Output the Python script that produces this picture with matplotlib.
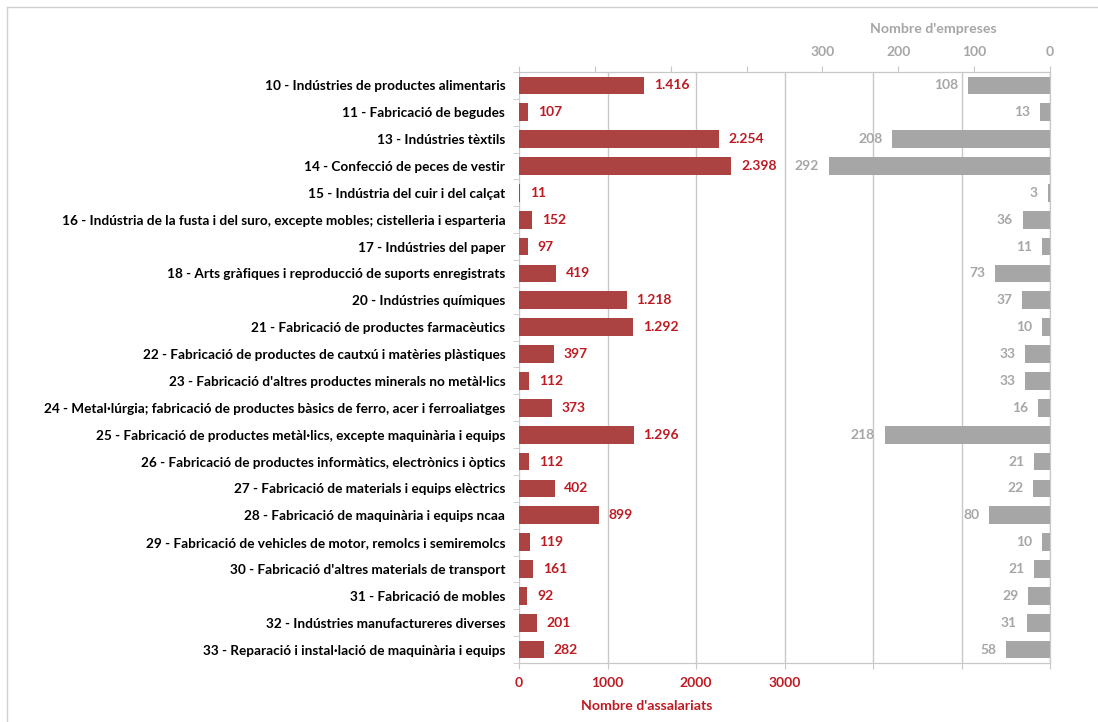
import numpy as np
import matplotlib.pyplot as plt
from matplotlib.lines import Line2D

plt.rcParams['font.family'] = ['Lato', 'DejaVu Sans']

categories = [
    "10 - Indústries de productes alimentaris",
    "11 - Fabricació de begudes",
    "13 - Indústries tèxtils",
    "14 - Confecció de peces de vestir",
    "15 - Indústria del cuir i del calçat",
    "16 - Indústria de la fusta i del suro, excepte mobles; cistelleria i esparteria",
    "17 - Indústries del paper",
    "18 - Arts gràfiques i reproducció de suports enregistrats",
    "20 - Indústries químiques",
    "21 - Fabricació de productes farmacèutics",
    "22 - Fabricació de productes de cautxú i matèries plàstiques",
    "23 - Fabricació d'altres productes minerals no metàl·lics",
    "24 - Metal·lúrgia; fabricació de productes bàsics de ferro, acer i ferroaliatges",
    "25 - Fabricació de productes metàl·lics, excepte maquinària i equips",
    "26 - Fabricació de productes informàtics, electrònics i òptics",
    "27 - Fabricació de materials i equips elèctrics",
    "28 - Fabricació de maquinària i equips ncaa",
    "29 - Fabricació de vehicles de motor, remolcs i semiremolcs",
    "30 - Fabricació d'altres materials de transport",
    "31 - Fabricació de mobles",
    "32 - Indústries manufactureres diverses",
    "33 - Reparació i instal·lació de maquinària i equips",
]
assalariats = [1416, 107, 2254, 2398, 11, 152, 97, 419, 1218, 1292, 397,
               112, 373, 1296, 112, 402, 899, 119, 161, 92, 201, 282]
empreses = [108, 13, 208, 292, 3, 36, 11, 73, 37, 10, 33,
            33, 16, 218, 21, 22, 80, 10, 21, 29, 31, 58]

RED = '#AA4341'
RED_TXT = '#BE1A22'
GRAY = '#A6A6A6'
GRID = '#C8C8C8'

def fmt(v):
    return f'{v:,}'.replace(',', '.')

fig = plt.figure(figsize=(10.98, 7.22), dpi=100)
ax = fig.add_axes([0.4727, 0.0817, 0.4836, 0.8186])
ax2 = ax.twiny()

y = np.arange(len(categories))

# assalariats (eix inferior)
ax.barh(y, assalariats, height=0.66, color=RED, zorder=2)
ax.set_xlim(0, 6000)
ax.set_ylim(len(categories) - 0.5, -0.5)
ax.set_xticks(range(0, 6001, 1000))
ax.set_xticklabels(['0', '1000', '2000', '3000', '', '', ''])
ax.tick_params(axis='x', colors=GRID, labelcolor=RED_TXT, length=4, pad=6,
               labelsize=10)
for t in ax.get_xticklabels():
    t.set_fontweight('bold')
ax.grid(axis='x', color=GRID, linewidth=1)
ax.set_axisbelow(True)
for i, v in enumerate(assalariats):
    ax.annotate(fmt(v), (v, i), xytext=(7, 0), textcoords='offset points',
                va='center', ha='left', color=RED_TXT, fontsize=10,
                fontweight='bold')

ax.set_yticks(y)
ax.set_yticklabels(categories, fontsize=9.8, fontweight='bold')
ax.set_yticks(np.arange(-0.5, len(categories)), minor=True)
ax.tick_params(axis='y', which='major', length=0, pad=10)
ax.tick_params(axis='y', which='minor', length=4, color=GRID)

# empreses (eix superior, invertit)
ax2.barh(y, empreses, height=0.66, color=GRAY, zorder=2)
ax2.set_xlim(700, 0)
ax2.set_xticks(range(0, 701, 100))
ax2.set_xticklabels(['0', '100', '200', '300', '', '', '', ''])
ax2.tick_params(axis='x', colors=GRID, labelcolor=GRAY, length=4, pad=6,
                labelsize=10)
for t in ax2.get_xticklabels():
    t.set_fontweight('bold')
for i, v in enumerate(empreses):
    ax2.annotate(str(v), (v, i), xytext=(-7, 0), textcoords='offset points',
                 va='center', ha='right', color=GRAY, fontsize=10,
                 fontweight='bold')

for a in (ax, ax2):
    a.spines['left'].set_visible(False)
    for s in ('top', 'bottom', 'right'):
        a.spines[s].set_color(GRID)

ax.text(0.78, 1.072, "Nombre d'empreses", transform=ax.transAxes,
        ha='center', va='center', color=GRAY, fontsize=10.2, fontweight='bold')
ax.text(0.241, -0.072, "Nombre d'assalariats", transform=ax.transAxes,
        ha='center', va='center', color=RED_TXT, fontsize=10.2, fontweight='bold')

# marc de la figura
fig.add_artist(Line2D([7 / 1098, 1], [1 - 7 / 722] * 2, color='#D0D0D0',
                      linewidth=1, transform=fig.transFigure))
fig.add_artist(Line2D([7 / 1098] * 2, [0, 1 - 7 / 722], color='#D0D0D0',
                      linewidth=1, transform=fig.transFigure))

fig.savefig('out.png', dpi=100, facecolor='white')
